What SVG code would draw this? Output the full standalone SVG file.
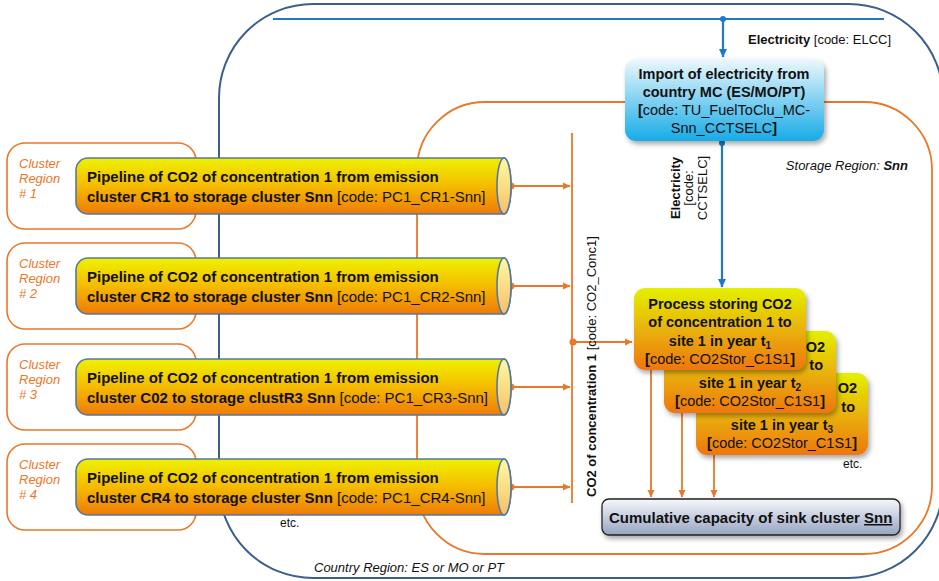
<svg xmlns="http://www.w3.org/2000/svg" width="939" height="581" viewBox="0 0 939 581">
<defs>
<style>
text{font-family:"Liberation Sans",Arial,sans-serif;fill:#111}
.b{font-weight:bold}
.n{font-weight:normal}
.pt{font-size:15px;font-weight:bold}
.cl{font-size:13px;font-style:italic;fill:#e8782a}
.cbox{fill:none;stroke:#e8782a;stroke-width:1.6}
.pipe{fill:url(#pipeGrad);stroke:#56789f;stroke-width:1.6}
.cap{fill:url(#capGrad);stroke:#56789f;stroke-width:1.6}
.oc{stroke:#e8782a;stroke-width:1.8;fill:none}
.bc{stroke:#1f78c8;stroke-width:2.2;fill:none}
.proc{fill:url(#procGrad);filter:url(#sh)}
.pr{font-size:14.5px;font-weight:bold;text-anchor:middle}
.pe{font-size:14.5px;font-weight:bold;text-anchor:end}
</style>
<linearGradient id="pipeGrad" x1="0" y1="0" x2="0" y2="1">
<stop offset="0" stop-color="#eef200"/><stop offset="0.5" stop-color="#f5bb00"/><stop offset="1" stop-color="#ee7a08"/>
</linearGradient>
<linearGradient id="capGrad" x1="0" y1="0" x2="0" y2="1">
<stop offset="0" stop-color="#fffaa0"/><stop offset="1" stop-color="#f6c06a"/>
</linearGradient>
<linearGradient id="procGrad" x1="0" y1="0" x2="0" y2="1">
<stop offset="0" stop-color="#e4f000"/><stop offset="1" stop-color="#ee7612"/>
</linearGradient>
<linearGradient id="impGrad" x1="0" y1="0" x2="0" y2="1">
<stop offset="0" stop-color="#edf8fd"/><stop offset="1" stop-color="#16abe6"/>
</linearGradient>
<linearGradient id="cumGrad" x1="0" y1="0" x2="0" y2="1">
<stop offset="0" stop-color="#f6f8fc"/><stop offset="1" stop-color="#97a3c1"/>
</linearGradient>
<filter id="sh" x="-10%" y="-10%" width="125%" height="130%">
<feDropShadow dx="2" dy="3" stdDeviation="2.5" flood-color="#000" flood-opacity="0.35"/>
</filter>
<marker id="ao" markerWidth="8" markerHeight="8" refX="7" refY="4" orient="auto" markerUnits="userSpaceOnUse">
<path d="M0,0.5 L7.5,4 L0,7.5 Z" fill="#e8782a"/>
</marker>
<marker id="ab" markerWidth="9" markerHeight="9" refX="8" refY="4.5" orient="auto" markerUnits="userSpaceOnUse">
<path d="M0,0.5 L8.5,4.5 L0,8.5 Z" fill="#1f78c8"/>
</marker>
</defs>
<rect width="939" height="581" fill="#fff"/>

<g id="country-region">
<rect x="219" y="4" width="724" height="574" rx="94" fill="none" stroke="#3b5f8c" stroke-width="2"/>
<text x="314" y="572" font-size="13" font-style="italic">Country Region: ES or MO or PT</text>
</g>
<g id="storage-region">
<rect x="417" y="102" width="515" height="452" rx="68" fill="none" stroke="#e8782a" stroke-width="1.8"/>
<text x="908" y="170" font-size="13" font-style="italic" text-anchor="end">Storage Region:  <tspan class="b">Snn</tspan></text>
</g>

<g id="clusters">
<g id="cluster1"><rect class="cbox" x="7" y="143" width="189" height="86" rx="18"/><text class="cl" x="19" y="168">Cluster</text><text class="cl" x="19" y="183">Region</text><text class="cl" x="19" y="198"># 1</text></g>
<g id="cluster2"><rect class="cbox" x="7" y="243" width="189" height="86" rx="18"/><text class="cl" x="19" y="268">Cluster</text><text class="cl" x="19" y="283">Region</text><text class="cl" x="19" y="298"># 2</text></g>
<g id="cluster3"><rect class="cbox" x="7" y="344" width="189" height="86" rx="18"/><text class="cl" x="19" y="369">Cluster</text><text class="cl" x="19" y="384">Region</text><text class="cl" x="19" y="399"># 3</text></g>
<g id="cluster4"><rect class="cbox" x="7" y="444" width="189" height="86" rx="18"/><text class="cl" x="19" y="469">Cluster</text><text class="cl" x="19" y="484">Region</text><text class="cl" x="19" y="499"># 4</text></g>
</g>

<g id="connectors">
<line class="bc" x1="273" y1="19" x2="884" y2="19"/>
<circle cx="723" cy="19" r="3" fill="#1f78c8"/>
<line class="bc" x1="723" y1="19" x2="723" y2="57" marker-end="url(#ab)"/>
<circle cx="722" cy="143" r="3" fill="#1f78c8"/>
<line class="bc" x1="722" y1="143" x2="722" y2="287" marker-end="url(#ab)"/>
<line class="oc" x1="572" y1="133" x2="572" y2="503"/>
<circle cx="511" cy="186" r="3.5" fill="#e8782a"/>
<line class="oc" x1="511" y1="186" x2="570" y2="186" marker-end="url(#ao)"/>
<circle cx="511" cy="286" r="3.5" fill="#e8782a"/>
<line class="oc" x1="511" y1="286" x2="570" y2="286" marker-end="url(#ao)"/>
<circle cx="511" cy="387" r="3.5" fill="#e8782a"/>
<line class="oc" x1="511" y1="387" x2="570" y2="387" marker-end="url(#ao)"/>
<circle cx="511" cy="487" r="3.5" fill="#e8782a"/>
<line class="oc" x1="511" y1="487" x2="570" y2="487" marker-end="url(#ao)"/>
<circle cx="573" cy="342" r="3.5" fill="#e8782a"/>
<line class="oc" x1="573" y1="342" x2="632" y2="342" marker-end="url(#ao)"/>
<line class="oc" x1="651" y1="370" x2="651" y2="497" marker-end="url(#ao)"/>
<line class="oc" x1="682" y1="413" x2="682" y2="497" marker-end="url(#ao)"/>
<line class="oc" x1="714" y1="455" x2="714" y2="497" marker-end="url(#ao)"/>
<text x="748" y="44" font-size="13"><tspan class="b">Electricity</tspan> [code: ELCC]</text>
<g font-size="13" text-anchor="middle">
<text class="b" transform="translate(680,188) rotate(-90)">Electricity</text>
<text transform="translate(693,188) rotate(-90)">[code:</text>
<text transform="translate(707,188) rotate(-90)">CCTSELC]</text>
</g>
<text font-size="13" transform="translate(596,497) rotate(-90)"><tspan class="b">CO2 of concentration 1</tspan> [code: CO2_Conc1]</text>
</g>

<g id="pipe1">
<path class="pipe" d="M88,158 H504 A7,28 0 0 1 504,214 H88 A12,12 0 0 1 76,202 V170 A12,12 0 0 1 88,158 Z"/>
<ellipse class="cap" cx="504" cy="186" rx="7" ry="28"/>
<text class="pt" x="87" y="182">Pipeline of CO2 of concentration  1 from emission</text>
<text class="pt" x="87" y="202">cluster CR1 to storage cluster Snn<tspan class="n"> [code: PC1_CR1-Snn]</tspan></text>
</g>
<g id="pipe2">
<path class="pipe" d="M88,258 H504 A7,28 0 0 1 504,314 H88 A12,12 0 0 1 76,302 V270 A12,12 0 0 1 88,258 Z"/>
<ellipse class="cap" cx="504" cy="286" rx="7" ry="28"/>
<text class="pt" x="87" y="282">Pipeline of CO2 of concentration  1 from emission</text>
<text class="pt" x="87" y="302">cluster CR2 to storage cluster Snn<tspan class="n"> [code: PC1_CR2-Snn]</tspan></text>
</g>
<g id="pipe3">
<path class="pipe" d="M88,359 H504 A7,28 0 0 1 504,415 H88 A12,12 0 0 1 76,403 V371 A12,12 0 0 1 88,359 Z"/>
<ellipse class="cap" cx="504" cy="387" rx="7" ry="28"/>
<text class="pt" x="87" y="383">Pipeline of CO2 of concentration  1 from emission</text>
<text class="pt" x="87" y="403">cluster C02 to storage clustR3 Snn<tspan class="n"> [code: PC1_CR3-Snn]</tspan></text>
</g>
<g id="pipe4">
<path class="pipe" d="M88,459 H504 A7,28 0 0 1 504,515 H88 A12,12 0 0 1 76,503 V471 A12,12 0 0 1 88,459 Z"/>
<ellipse class="cap" cx="504" cy="487" rx="7" ry="28"/>
<text class="pt" x="87" y="483">Pipeline of CO2 of concentration  1 from emission</text>
<text class="pt" x="87" y="503">cluster CR4 to storage cluster Snn<tspan class="n"> [code: PC1_CR4-Snn]</tspan></text>
</g>
<text x="280" y="527" font-size="12">etc.</text>

<g id="import">
<rect x="625" y="59" width="199" height="82" rx="11" fill="url(#impGrad)" filter="url(#sh)"/>
<text class="pr" x="724" y="79">Import of electricity  from</text>
<text class="pr" x="724" y="97">country MC (ES/MO/PT)</text>
<text class="pr" x="724" y="115">[<tspan class="n">code: TU_FuelToClu_MC-</tspan></text>
<text class="pr" x="724" y="133"><tspan class="n">Snn_CCTSELC</tspan>]</text>
</g>

<g id="process3">
<rect class="proc" x="696" y="373" width="172" height="82" rx="11"/>
<text class="pe" x="857" y="393">O2</text>
<text class="pe" x="855" y="412">to</text>
<text class="pr" x="782" y="430">site 1 in year t<tspan font-size="10" dy="3">3</tspan></text>
<text class="pr" x="782" y="448">[<tspan class="n">code: CO2Stor_C1S1</tspan>]</text>
</g>
<g id="process2">
<rect class="proc" x="664" y="331" width="172" height="82" rx="11"/>
<text class="pe" x="825" y="352">O2</text>
<text class="pe" x="823" y="370">to</text>
<text class="pr" x="750" y="388">site 1 in year t<tspan font-size="10" dy="3">2</tspan></text>
<text class="pr" x="750" y="406">[<tspan class="n">code: CO2Stor_C1S1</tspan>]</text>
</g>
<g id="process1">
<rect class="proc" x="634" y="288" width="172" height="82" rx="11"/>
<text class="pr" x="720" y="309">Process storing CO2</text>
<text class="pr" x="720" y="327">of concentration 1 to</text>
<text class="pr" x="720" y="346">site 1 in year t<tspan font-size="10" dy="3">1</tspan></text>
<text class="pr" x="720" y="364">[<tspan class="n">code: CO2Stor_C1S1</tspan>]</text>
</g>
<text x="843" y="468" font-size="12">etc.</text>

<g id="cumulative">
<rect x="602" y="499" width="298" height="36" rx="7" fill="url(#cumGrad)" stroke="#222" stroke-width="1.3" filter="url(#sh)"/>
<text x="609" y="523" font-size="15" class="b">Cumulative  capacity of sink cluster <tspan text-decoration="underline">Snn</tspan></text>
</g>
</svg>
